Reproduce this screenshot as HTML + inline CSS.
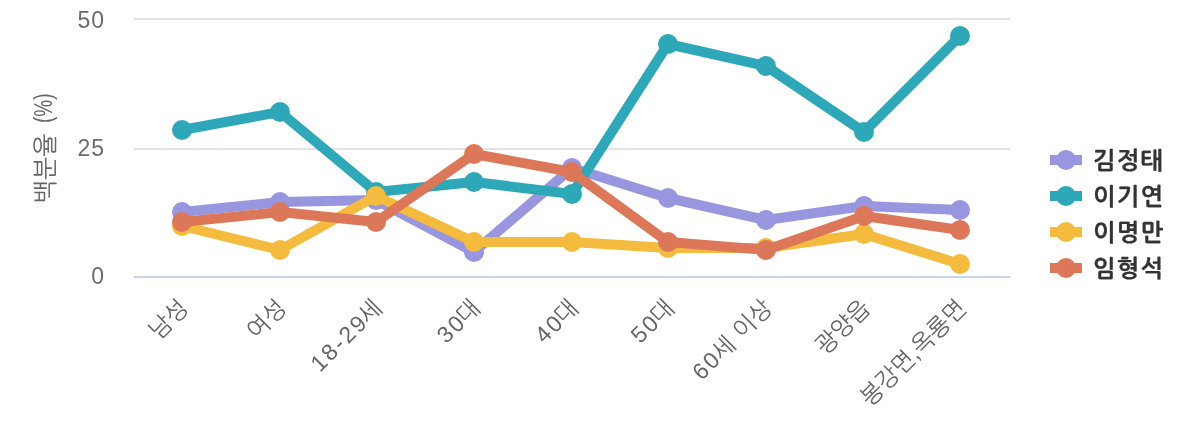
<!DOCTYPE html>
<html lang="ko"><head><meta charset="utf-8"><title>chart</title>
<style>
html,body{margin:0;padding:0;background:#fff;}
body{width:1200px;height:440px;overflow:hidden;}
svg{display:block;}
text{font-family:"Liberation Sans", "NanumGothic", "Noto Sans CJK KR", sans-serif;}
.ax{font-size:23.3px;fill:#666;}
.ttl{font-size:24.8px;fill:#666;}
.pc{font-size:25.5px;}
.n{font-size:23px;letter-spacing:2.3px;}
.d{font-size:23px;}
.xl{word-spacing:1.5px;}
.yl{font-size:23px;letter-spacing:0.8px;fill:#6c6c6c;}
.lg{font-size:24px;font-weight:bold;fill:#333;letter-spacing:1.3px;stroke:#333;stroke-width:0.3px;}
</style></head><body>
<svg width="1200" height="440" viewBox="0 0 1200 440">
<rect width="1200" height="440" fill="#fff"/>

<rect x="134" y="18" width="876" height="2" fill="#e3e3e3"/>
<rect x="134" y="148" width="876" height="2" fill="#e3e3e3"/>
<rect x="134" y="276" width="876" height="2" fill="#c9d3ea"/>
<text class="ax yl" x="104.8" y="28.3" text-anchor="end">50</text>
<text class="ax yl" x="104.8" y="156.3" text-anchor="end">25</text>
<text class="ax yl" x="104.8" y="284.3" text-anchor="end">0</text>
<text class="ttl" transform="translate(54,203.3) rotate(-90)">백분율 <tspan class="pc" dx="3.5" dy="-1.8" textLength="29.5" lengthAdjust="spacingAndGlyphs">(%)</tspan></text>
<g fill="#9896df" stroke="none"><polyline points="182,212 280,202 376,200 474,252 572,168 668,198 766,220 864,206 960,210" fill="none" stroke="#9896df" stroke-width="10" stroke-linejoin="round" stroke-linecap="round"/>
<circle cx="182" cy="212" r="10"/>
<circle cx="280" cy="202" r="10"/>
<circle cx="376" cy="200" r="10"/>
<circle cx="474" cy="252" r="10"/>
<circle cx="572" cy="168" r="10"/>
<circle cx="668" cy="198" r="10"/>
<circle cx="766" cy="220" r="10"/>
<circle cx="864" cy="206" r="10"/>
<circle cx="960" cy="210" r="10"/>
</g>
<g fill="#2ea8b8" stroke="none"><polyline points="182,130 280,112 376,192 474,182 572,194 668,44 766,66 864,132 960,36" fill="none" stroke="#2ea8b8" stroke-width="10" stroke-linejoin="round" stroke-linecap="round"/>
<circle cx="182" cy="130" r="10"/>
<circle cx="280" cy="112" r="10"/>
<circle cx="376" cy="192" r="10"/>
<circle cx="474" cy="182" r="10"/>
<circle cx="572" cy="194" r="10"/>
<circle cx="668" cy="44" r="10"/>
<circle cx="766" cy="66" r="10"/>
<circle cx="864" cy="132" r="10"/>
<circle cx="960" cy="36" r="10"/>
</g>
<g fill="#f4bb3e" stroke="none"><polyline points="182,226 280,250 376,196 474,242 572,242 668,248 766,248 864,234 960,264" fill="none" stroke="#f4bb3e" stroke-width="10" stroke-linejoin="round" stroke-linecap="round"/>
<circle cx="182" cy="226" r="10"/>
<circle cx="280" cy="250" r="10"/>
<circle cx="376" cy="196" r="10"/>
<circle cx="474" cy="242" r="10"/>
<circle cx="572" cy="242" r="10"/>
<circle cx="668" cy="248" r="10"/>
<circle cx="766" cy="248" r="10"/>
<circle cx="864" cy="234" r="10"/>
<circle cx="960" cy="264" r="10"/>
</g>
<g fill="#dc7759" stroke="none"><polyline points="182,222 280,212 376,222 474,154 572,172 668,242 766,250 864,216 960,230" fill="none" stroke="#dc7759" stroke-width="10" stroke-linejoin="round" stroke-linecap="round"/>
<circle cx="182" cy="222" r="10"/>
<circle cx="280" cy="212" r="10"/>
<circle cx="376" cy="222" r="10"/>
<circle cx="474" cy="154" r="10"/>
<circle cx="572" cy="172" r="10"/>
<circle cx="668" cy="242" r="10"/>
<circle cx="766" cy="250" r="10"/>
<circle cx="864" cy="216" r="10"/>
<circle cx="960" cy="230" r="10"/>
</g>
<text class="ax xl" transform="translate(189.5,309.4) rotate(-45)" text-anchor="end">남성</text>
<text class="ax xl" transform="translate(287.5,309.4) rotate(-45)" text-anchor="end">여성</text>
<text class="ax xl" transform="translate(383.5,309.4) rotate(-45)" text-anchor="end"><tspan class="n">18-2</tspan><tspan class="d">9</tspan>세</text>
<text class="ax xl" transform="translate(481.5,309.4) rotate(-45)" text-anchor="end"><tspan class="n">3</tspan><tspan class="d">0</tspan>대</text>
<text class="ax xl" transform="translate(579.5,309.4) rotate(-45)" text-anchor="end"><tspan class="n">4</tspan><tspan class="d">0</tspan>대</text>
<text class="ax xl" transform="translate(675.5,309.4) rotate(-45)" text-anchor="end"><tspan class="n">5</tspan><tspan class="d">0</tspan>대</text>
<text class="ax xl" transform="translate(773.5,309.4) rotate(-45)" text-anchor="end"><tspan class="n">6</tspan><tspan class="d">0</tspan>세 이상</text>
<text class="ax xl" transform="translate(871.5,309.4) rotate(-45)" text-anchor="end">광양읍</text>
<text class="ax xl" transform="translate(967.5,309.4) rotate(-45)" text-anchor="end">봉강면,옥룡면</text>
<rect x="1050" y="155" width="32" height="10" fill="#9896df"/><circle cx="1066" cy="160" r="10" fill="#9896df"/>
<text class="lg" x="1092.9" y="169.3">김정태</text>
<rect x="1050" y="191" width="32" height="10" fill="#2ea8b8"/><circle cx="1066" cy="196" r="10" fill="#2ea8b8"/>
<text class="lg" x="1092.9" y="205.3">이기연</text>
<rect x="1050" y="227" width="32" height="10" fill="#f4bb3e"/><circle cx="1066" cy="232" r="10" fill="#f4bb3e"/>
<text class="lg" x="1092.9" y="241.3">이명만</text>
<rect x="1050" y="263" width="32" height="10" fill="#dc7759"/><circle cx="1066" cy="268" r="10" fill="#dc7759"/>
<text class="lg" x="1092.9" y="277.3">임형석</text>
</svg></body></html>
